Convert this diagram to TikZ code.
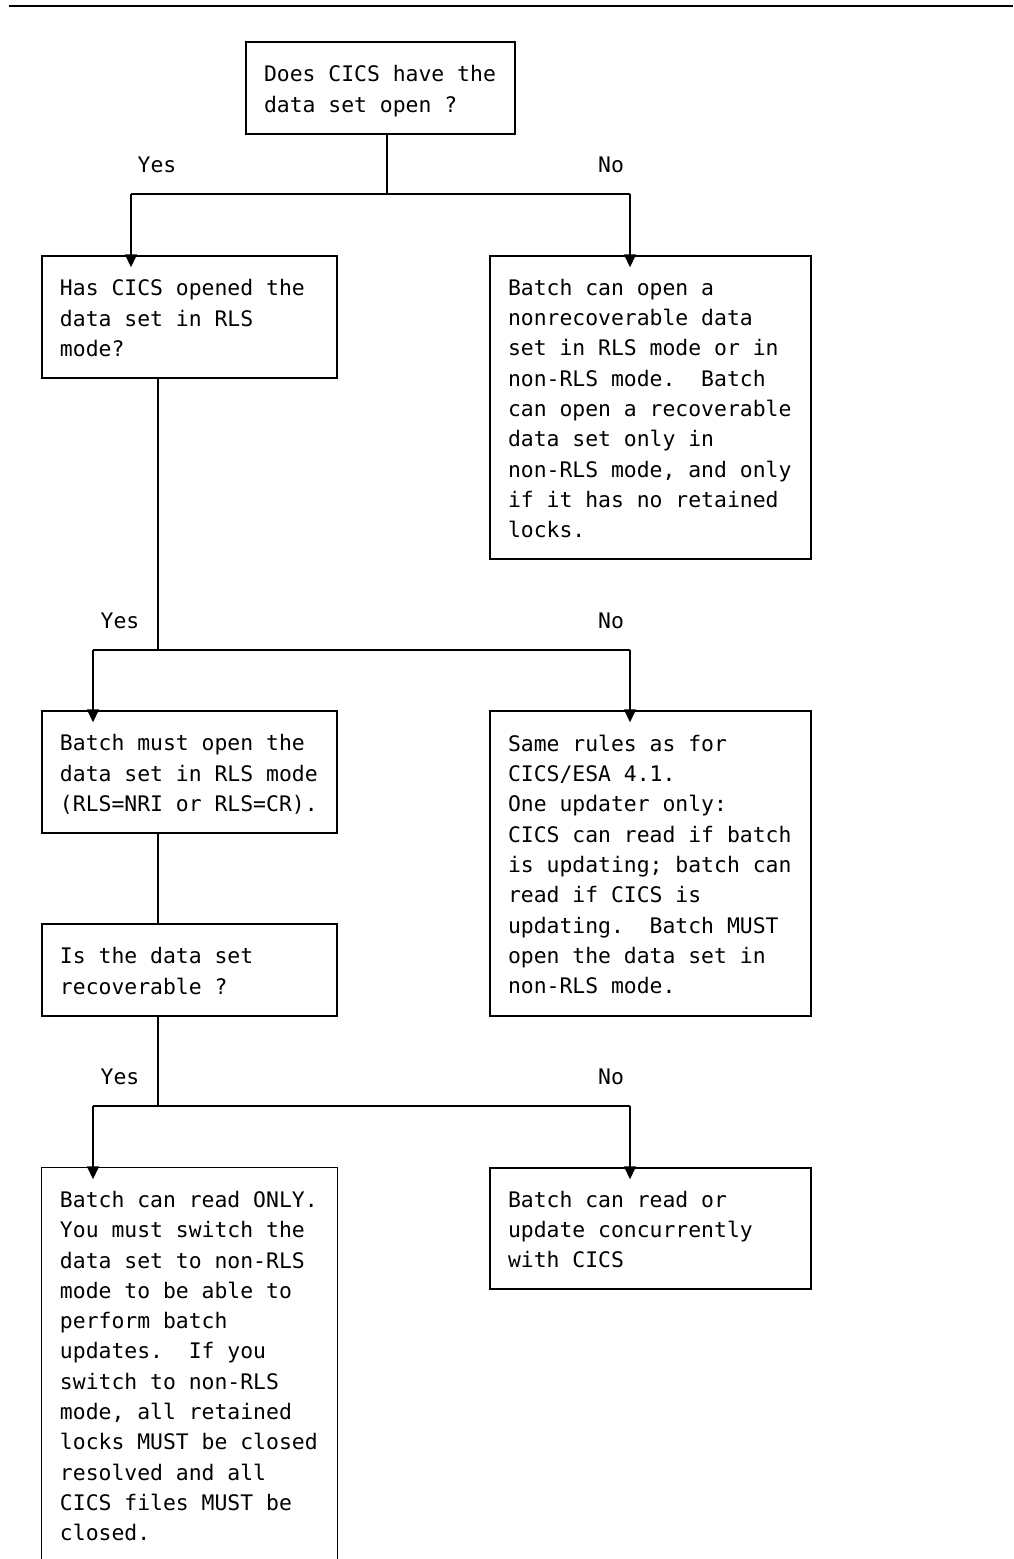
\documentclass[tikz,border=0pt]{standalone}
\usepackage{fontspec}
\setmonofont{DejaVu Sans Mono}
\usetikzlibrary{arrows.meta}

\newcommand\boxfont{\ttfamily\fontsize{10.7pt}{15.15pt}\selectfont
    \fontdimen2\font=\fontcharwd\font`x\relax
    \fontdimen3\font=0pt\relax\fontdimen4\font=0pt\relax\frenchspacing}
% largura fixa dos espacos e linha de altura fixa
\newcommand\cellstrut{\spaceskip=\fontcharwd\font`x\relax\xspaceskip=\spaceskip
    \rule[-3.05pt]{0pt}{15.15pt}}

\tikzset{
    txt/.style={font=\boxfont},
    box/.style={txt, draw, line width=0.7pt, rectangle, align=left, inner xsep=9pt,
        execute at begin node=\cellstrut, execute at end node=\cellstrut},
    leftbox/.style={box, text width=129.5pt},
    rightbox/.style={box, text width=142.5pt},
    line/.style={line width=0.7pt},
    arr/.style={line width=0.7pt, -{Triangle[width=6pt,length=6.5pt]}}
}

\begin{document}
\begin{tikzpicture}[x=0.5pt, y=-0.5pt]
        \useasboundingbox (0,0) rectangle (1013,1559);
        \draw[line width=1pt] (9,6) -- (1013,6);

        %caixas
        \node[box, text width=116.5pt, minimum height=46pt] (q1) at (380.5,88) {Does CICS have the\\data set open ?};
        \node[leftbox, minimum height=61pt] (q2) at (189.5,317) {Has CICS opened the\\data set in RLS\\mode?};
        \node[rightbox, minimum height=151.5pt] (n1) at (650.5,407.5) {Batch can open a\\nonrecoverable data\\set in RLS mode or in\\non-RLS mode.\ \ Batch\\can open a recoverable\\data set only in\\non-RLS mode, and only\\if it has no retained\\locks.};
        \node[leftbox, minimum height=61pt] (y1) at (189.5,772) {Batch must open the\\data set in RLS mode\\(RLS=NRI or RLS=CR).};
        \node[leftbox, minimum height=46pt] (q3) at (189.5,970) {Is the data set\\recoverable ?};
        \node[rightbox, minimum height=152.5pt] (n2) at (650.5,863.5) {Same rules as for\\CICS/ESA 4.1.\\One updater only:\\CICS can read if batch\\is updating; batch can\\read if CICS is\\updating.\ \ Batch MUST\\open the data set in\\non-RLS mode.};
        \node[rightbox, minimum height=60.5pt] (n3) at (650.5,1228.5) {Batch can read or\\update concurrently\\with CICS};
        \node[leftbox, draw=none, minimum height=197pt] (y2) at (189.5,1365) {Batch can read ONLY.\\You must switch the\\data set to non-RLS\\mode to be able to\\perform batch\\updates.\ \ If you\\switch to non-RLS\\mode, all retained\\locks MUST be closed\\resolved and all\\CICS files MUST be\\closed.};
        \draw[line] (y2.west |- 0,1580) -- (y2.north west) -- (y2.north east) -- (y2.east |- 0,1580);

        %rotulos
        \node[txt] (yes1) at (157,165) {Yes};
        \node[txt] (no1) at (611,165) {No};
        \node[txt] (yes2) at (120,621) {Yes};
        \node[txt] (no2) at (611,621) {No};
        \node[txt] (yes3) at (120,1077) {Yes};
        \node[txt] (no3) at (611,1077) {No};

        %ligacoes
        \coordinate (s1) at (387,194);
        \coordinate (b1l) at (131,194);
        \coordinate (b1r) at (630,194);
        \draw[line] (q1.south -| s1) -- (s1);
        \draw[line] (b1l) -- (b1r);
        \draw[arr] (b1l) -- ([yshift=-6pt]b1l |- q2.north);
        \draw[arr] (b1r) -- ([yshift=-6pt]b1r |- n1.north);

        \coordinate (s2) at (158,650);
        \coordinate (b2l) at (93,650);
        \coordinate (b2r) at (630,650);
        \draw[line] (q2.south -| s2) -- (s2);
        \draw[line] (b2l) -- (b2r);
        \draw[arr] (b2l) -- ([yshift=-6pt]b2l |- y1.north);
        \draw[arr] (b2r) -- ([yshift=-6pt]b2r |- n2.north);
        \draw[line] (y1.south -| s2) -- (q3.north -| s2);

        \coordinate (s3) at (158,1106);
        \coordinate (b3l) at (93,1106);
        \coordinate (b3r) at (630,1106);
        \draw[line] (q3.south -| s3) -- (s3);
        \draw[line] (b3l) -- (b3r);
        \draw[arr] (b3l) -- ([yshift=-6pt]b3l |- y2.north);
        \draw[arr] (b3r) -- ([yshift=-6pt]b3r |- n3.north);
\end{tikzpicture}
\end{document}
